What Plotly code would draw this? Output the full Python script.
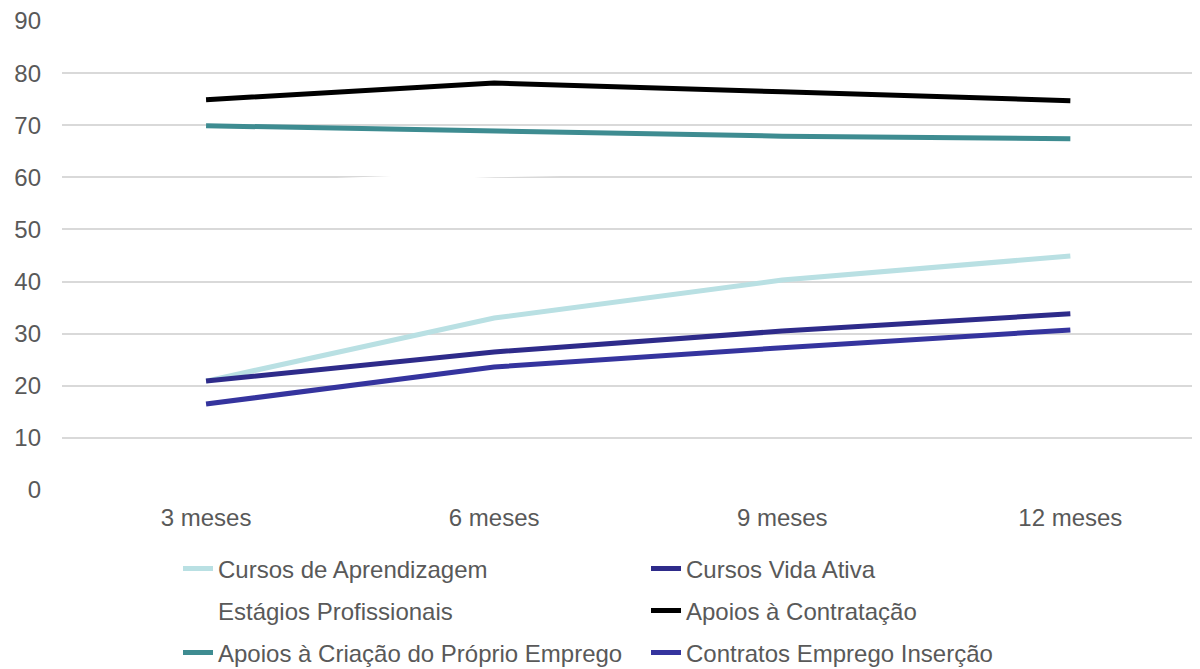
import plotly.graph_objects as go

categories = ["3 meses", "6 meses", "9 meses", "12 meses"]

series_names = [
    "Cursos de Aprendizagem",
    "Cursos Vida Ativa",
    "Estágios Profissionais",
    "Apoios à Contratação",
    "Apoios à Criação do Próprio Emprego",
    "Contratos Emprego Inserção",
]
cursos_aprendizagem = [20.9, 33.0, 40.3, 44.9]
cursos_vida_ativa = [20.9, 26.5, 30.5, 33.8]
estagios_profissionais = [58.5, 60.5, 61.5, 62.0]
apoios_contratacao = [74.9, 78.1, 76.4, 74.7]
apoios_criacao = [69.9, 68.9, 67.9, 67.4]
contratos_insercao = [16.5, 23.6, 27.3, 30.7]

values = [cursos_aprendizagem, cursos_vida_ativa, estagios_profissionais,
          apoios_contratacao, apoios_criacao, contratos_insercao]
colors = ["#B9E0E3", "#2E2B8A", "#FFFFFF", "#000000", "#3E8C91", "#35349E"]
legend_ids = ["legend", "legend", "legend2", "legend2", "legend3", "legend3"]

fig = go.Figure()
for name, vals, col, lg in zip(series_names, values, colors, legend_ids):
    fig.add_trace(go.Scatter(
        x=categories, y=vals, name=name, mode="lines",
        line=dict(color=col, width=5),
        legend=lg,
    ))

# The page body has an 8px margin, so the figure is sized/offset to compensate.
W, H = 1192, 661
font_family = "Liberation Sans, Arial, sans-serif"
leg_common = dict(
    orientation="h", xref="container", yref="container",
    x=170 / W, xanchor="left", yanchor="middle",
    entrywidth=423, entrywidthmode="pixels",
    font=dict(family=font_family, size=24, color="#595959"),
    bgcolor="rgba(0,0,0,0)", itemclick=False, traceorder="normal",
)

fig.update_layout(
    width=W, height=H,
    margin=dict(l=54, r=0, t=13, b=179, autoexpand=False),
    paper_bgcolor="white", plot_bgcolor="white",
    font=dict(family=font_family, size=24, color="#595959"),
    xaxis=dict(
        type="category", range=[-0.5, 3.45],
        showgrid=False, showline=False, zeroline=False,
        ticks="", tickfont=dict(size=24, color="#595959"),
        ticklabelstandoff=11,
    ),
    yaxis=dict(
        range=[0, 90], dtick=10, showgrid=True, gridcolor="#D9D9D9",
        gridwidth=1.5, zeroline=False, showline=False,
        ticks="", tickfont=dict(size=24, color="#595959"),
        ticklabelstandoff=20, ticklabeloverflow="allow",
    ),
    legend=dict(y=1 - (569 - 8) / H, **leg_common),
    legend2=dict(y=1 - (611 - 8) / H, **leg_common),
    legend3=dict(y=1 - (653 - 8) / H, **leg_common),
    showlegend=True,
)

fig.write_html("out.html")
